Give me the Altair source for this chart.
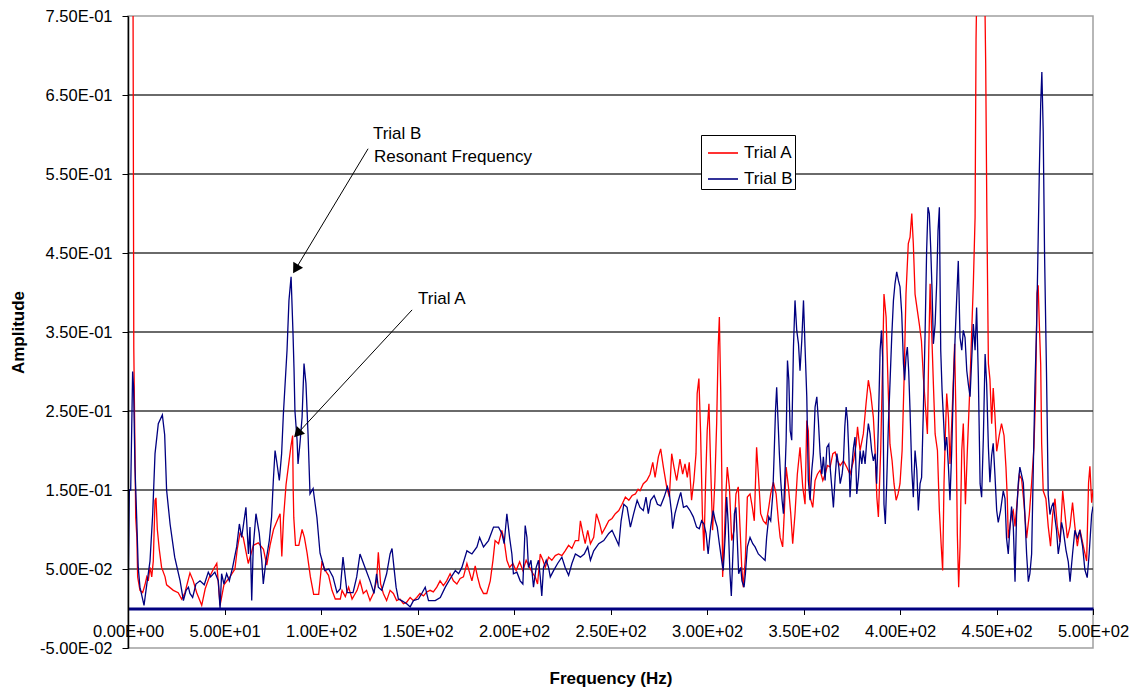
import altair as alt
import pandas as pd

# ---- Trial A spectrum (frequency in Hz, amplitude) by band ----
a_hz_1 = [0, 1.5, 2.6, 3.0, 4.0, 4.6, 5.0, 6.2, 7.6, 8.8,
          9.7, 10.5, 11.4, 12.3, 13.1, 14.0, 14.5, 15.2, 16.2, 17.4,
          19.2, 20.0, 23.5, 26.0, 27.8, 29.5, 32.1, 33.8, 35.6, 38.2,
          40.0, 42.2, 44.3, 46.0, 47.7, 49.7, 52.8, 55.4, 56.6, 58.0,
          59.7, 62.3, 65.0, 67.5, 70.2, 71.9, 73.6, 75.4, 77.1, 78.8,
          79.7, 80.6, 81.9, 83.1, 84.4, 85.3, 85.6, 85.9, 86.8, 88.5,
          90.2, 91.4, 92.8, 94.5, 96.2, 98.8, 100.5, 101.7, 103.9, 105.7,
          107.4, 110.0, 110.9, 112.6, 114.3, 116.1, 118.7]
a_amp_1 = [0.95, 0.9, 0.78, 0.33, 0.115, 0.09, 0.04, 0.023, 0.02, 0.03,
           0.04, 0.035, 0.052, 0.04, 0.06, 0.137, 0.14, 0.10, 0.075, 0.052,
           0.04, 0.03, 0.023, 0.02, 0.012, 0.02, 0.045, 0.035, 0.02, 0.004,
           0.025, 0.04, 0.05, 0.057, 0.004, 0.03, 0.04, 0.05, 0.075, 0.095,
           0.09, 0.057, 0.08, 0.083, 0.075, 0.055, 0.08, 0.10, 0.11, 0.12,
           0.066, 0.115, 0.157, 0.18, 0.205, 0.219, 0.15, 0.115, 0.08, 0.08,
           0.10, 0.09, 0.07, 0.04, 0.018, 0.018, 0.06, 0.05, 0.042, 0.023,
           0.012, 0.012, 0.023, 0.015, 0.027, 0.012, 0.023]

a_hz_2 = [120.2, 121.9, 123.6, 125.4, 127.1, 128.8, 129.7, 130.9, 132.3, 134.0,
          135.8, 137.5, 139.2, 140.9, 142.7, 144.4, 146.2, 147.9, 149.6, 151.3,
          153.1, 154.8, 156.5, 158.2, 160.0, 161.7, 163.4, 165.1, 166.9, 168.6,
          170.4, 172.1, 173.8, 175.6, 176.9, 178.2, 179.9, 181.1, 182.5, 184.2,
          185.9, 187.7, 189.1, 190.2, 192.0, 193.7, 194.9, 196.3, 197.7, 199.4,
          201.1, 202.9, 204.6, 206.3, 208.1, 209.8, 211.0, 212.2, 213.6, 215.0,
          216.2, 217.9, 219.6, 221.4, 223.1, 224.8, 226.5, 228.3, 230.0, 231.8,
          233.5, 234.4, 235.7, 236.9, 238.2, 239.6, 241.3, 242.7, 244.4, 245.6,
          247.4, 249.1, 250.8, 252.5, 254.3, 256.0, 257.7, 259.5, 261.2, 262.9,
          264.3]
a_amp_2 = [0.035, 0.019, 0.023, 0.01, 0.019, 0.035, 0.071, 0.031, 0.019, 0.01,
           0.023, 0.019, 0.01, 0.012, 0.006, 0.008, 0.014, 0.01, 0.014, 0.019,
           0.016, 0.021, 0.023, 0.021, 0.027, 0.035, 0.029, 0.035, 0.044, 0.035,
           0.031, 0.038, 0.04, 0.057, 0.046, 0.035, 0.054, 0.04, 0.027, 0.019,
           0.019, 0.035, 0.061, 0.086, 0.082, 0.099, 0.086, 0.061, 0.052, 0.057,
           0.048, 0.059, 0.048, 0.061, 0.052, 0.044, 0.04, 0.031, 0.069, 0.061,
           0.052, 0.065, 0.061, 0.067, 0.069, 0.067, 0.073, 0.08, 0.076, 0.086,
           0.086, 0.111, 0.095, 0.082, 0.099, 0.082, 0.09, 0.12, 0.107, 0.095,
           0.103, 0.111, 0.114, 0.12, 0.124, 0.132, 0.141, 0.137, 0.143, 0.145,
           0.151]

a_hz_3 = [265.3, 267.0, 268.8, 270.5, 271.9, 273.1, 274.8, 276.0, 277.4, 279.1,
          280.5, 281.7, 282.9, 284.3, 286.0, 287.4, 288.6, 289.8, 290.8, 292.0,
          293.2, 294.3, 294.9, 295.8, 296.7, 297.6, 298.4, 299.3, 300.1, 301.0,
          301.9, 302.9, 304.1, 305.0, 305.8, 306.4, 307.1, 307.7, 308.1, 308.8,
          309.8, 310.5, 311.6, 312.8, 314.0, 315.0, 316.2, 317.1, 318.0, 318.8,
          319.9, 320.9, 322.3, 323.5, 324.5, 325.7, 326.8, 327.8, 329.2, 330.6,
          332.0, 333.0, 334.4, 335.8, 337.0, 337.9, 339.2, 340.1, 341.0, 342.2,
          343.4, 344.4, 345.6, 346.8, 348.2, 349.6, 350.8, 351.7, 352.5, 353.4,
          354.8, 356.0, 357.2, 358.6, 360.0, 361.2, 362.4, 363.8, 365.2, 366.4,
          367.6, 369.0, 370.7, 372.4, 374.1, 375.9, 377.3, 378.0]
a_amp_3 = [0.149, 0.158, 0.162, 0.17, 0.185, 0.166, 0.192, 0.202, 0.179, 0.154,
           0.141, 0.196, 0.179, 0.162, 0.189, 0.17, 0.183, 0.166, 0.185, 0.137,
           0.162, 0.196, 0.272, 0.291, 0.221, 0.12, 0.073, 0.162, 0.225, 0.259,
           0.179, 0.099, 0.162, 0.234, 0.331, 0.369, 0.276, 0.162, 0.04, 0.078,
           0.145, 0.179, 0.154, 0.086, 0.099, 0.145, 0.154, 0.103, 0.052, 0.027,
           0.065, 0.141, 0.145, 0.128, 0.111, 0.204, 0.162, 0.12, 0.111, 0.107,
           0.128, 0.145, 0.16, 0.145, 0.111, 0.09, 0.078, 0.124, 0.179, 0.154,
           0.12, 0.082, 0.12, 0.17, 0.204, 0.154, 0.132, 0.238, 0.225, 0.141,
           0.128, 0.162, 0.17, 0.175, 0.162, 0.17, 0.181, 0.179, 0.196, 0.198,
           0.187, 0.181, 0.187, 0.179, 0.17, 0.187, 0.208, 0.23]

a_hz_4 = [379.3, 381.0, 382.4, 383.6, 384.8, 386.2, 387.1, 388.0, 388.8, 390.0,
          391.0, 391.7, 392.8, 393.8, 394.8, 395.9, 396.9, 398.0, 399.0, 400.0,
          401.1, 402.1, 403.1, 404.3, 405.2, 406.1, 406.9, 407.8, 409.0, 410.0,
          411.1, 412.1, 413.2, 414.2, 414.9, 415.6, 416.4, 417.3, 418.2, 419.4,
          420.4, 421.3, 422.1, 422.8, 423.5, 424.2, 425.1, 425.9, 426.8, 427.7,
          428.3, 429.0, 429.7, 430.4, 431.1, 432.0, 432.8, 433.9, 434.9, 436.0,
          437.0, 438.0, 438.9, 439.4, 440.1, 441.5, 443.5, 444.4, 445.0, 445.8]
a_amp_4 = [0.2, 0.221, 0.259, 0.289, 0.272, 0.242, 0.2, 0.141, 0.116, 0.2,
           0.31, 0.398, 0.369, 0.284, 0.208, 0.187, 0.158, 0.137, 0.145, 0.158,
           0.2, 0.289, 0.398, 0.462, 0.47, 0.5, 0.462, 0.398, 0.377, 0.36,
           0.339, 0.293, 0.255, 0.221, 0.327, 0.411, 0.352, 0.284, 0.221, 0.2,
           0.124, 0.082, 0.048, 0.158, 0.221, 0.272, 0.242, 0.183, 0.234, 0.293,
           0.335, 0.242, 0.095, 0.027, 0.078, 0.2, 0.234, 0.132, 0.2, 0.268,
           0.339, 0.411, 0.495, 0.72, 0.84, 0.9, 0.86, 0.69, 0.5, 0.31]

a_hz_5 = [446.6, 447.5, 448.3, 449.2, 450.1, 451.4, 452.6, 453.9, 454.9, 455.6,
          456.1, 457.0, 457.8, 458.7, 459.6, 460.8, 461.8, 463.0, 464.2, 465.6,
          467.0, 468.2, 469.4, 470.3, 471.0, 471.6, 472.2, 472.9, 473.4, 474.2,
          475.6, 476.8, 478.0, 479.1, 480.3, 481.5, 482.9, 484.3, 485.5, 486.7,
          488.1, 489.4, 490.6, 491.9, 493.2, 495.0, 496.7, 497.7, 498.4, 499.3,
          500.0]
a_amp_5 = [0.29, 0.234, 0.279, 0.244, 0.199, 0.219, 0.234, 0.219, 0.179, 0.139,
           0.089, 0.104, 0.119, 0.124, 0.104, 0.139, 0.169, 0.164, 0.134, 0.089,
           0.119, 0.159, 0.204, 0.274, 0.399, 0.409, 0.359, 0.309, 0.209, 0.149,
           0.139, 0.104, 0.079, 0.119, 0.139, 0.104, 0.084, 0.149, 0.119, 0.089,
           0.104, 0.134, 0.104, 0.079, 0.1, 0.079, 0.06, 0.159, 0.18, 0.134,
           0.15]

# ---- Trial B spectrum by band ----
b_hz_1 = [0, 0.7, 1.4, 2.4, 2.9, 3.6, 4.5, 5.3, 6.2, 8.3,
          9.7, 11.4, 12.8, 14.0, 15.7, 17.8, 19.0, 20.0, 21.8, 24.2,
          27.0, 28.7, 30.1, 31.3, 32.1, 33.5, 35.2, 37.3, 39.5, 41.6,
          42.8, 45.0, 46.8, 47.7, 48.5, 49.7, 51.1, 52.5, 54.2, 56.3,
          57.7, 58.9, 61.1, 62.4, 63.2, 64.1, 64.9, 66.3, 68.0, 69.3,
          70.1, 71.3, 73.2, 74.4, 75.3, 76.2, 77.0, 78.4, 79.6, 80.5,
          82.4, 83.4, 84.5, 85.5, 86.0, 86.5, 87.6, 88.1, 89.1, 90.2,
          91.2, 92.2, 93.3, 94.3, 95.9, 97.9, 99.5, 101.0, 102.0, 104.0,
          106.2, 108.3, 110.0, 111.4, 113.5, 116.6, 118.5]
b_amp_1 = [0.0, 0.15, 0.15, 0.30, 0.28, 0.18, 0.115, 0.052, 0.027, 0.004,
           0.03, 0.06, 0.12, 0.196, 0.234, 0.245, 0.22, 0.15, 0.107, 0.065,
           0.035, 0.01, 0.023, 0.027, 0.019, 0.014, 0.031, 0.035, 0.03, 0.046,
           0.04, 0.046, 0.035, 0.0, 0.044, 0.031, 0.044, 0.035, 0.052, 0.078,
           0.107, 0.09, 0.128, 0.069, 0.103, 0.01, 0.078, 0.12, 0.095, 0.061,
           0.031, 0.057, 0.086, 0.116, 0.162, 0.2, 0.187, 0.162, 0.196, 0.246,
           0.327, 0.39, 0.42, 0.348, 0.305, 0.25, 0.213, 0.183, 0.209, 0.242,
           0.31, 0.285, 0.22, 0.145, 0.152, 0.115, 0.07, 0.057, 0.048, 0.05,
           0.04, 0.02, 0.025, 0.065, 0.02, 0.02, 0.04]

b_hz_2 = [120.2, 122.8, 125.4, 127.5, 128.8, 129.7, 131.5, 134.0, 135.8, 136.8,
          137.8, 138.9, 140.1, 141.8, 144.4, 146.2, 147.9, 150.5, 152.2, 154.0,
          155.7, 159.2, 161.8, 164.4, 167.0, 169.6, 171.3, 173.0, 175.6, 178.2,
          180.8, 182.2, 184.2, 186.8, 189.4, 192.0, 193.7, 194.9, 196.3, 197.7,
          198.9, 199.7, 201.5, 203.2, 204.6, 205.8, 206.7, 207.5, 208.8, 210.1,
          211.5, 212.7, 213.6, 214.4, 215.3, 216.7, 217.9, 218.8, 220.5, 222.6,
          224.8, 226.5, 228.3, 230.0, 231.8, 234.4, 236.4, 238.2, 239.6, 241.3,
          243.9, 246.5, 249.1, 250.8, 252.5, 254.3, 255.5, 256.9, 258.6, 260.3,
          262.0, 263.8]
b_amp_2 = [0.069, 0.052, 0.035, 0.019, 0.044, 0.027, 0.023, 0.044, 0.069, 0.076,
           0.052, 0.027, 0.012, 0.01, 0.006, 0.002, 0.01, 0.012, 0.019, 0.027,
           0.01, 0.01, 0.014, 0.027, 0.038, 0.048, 0.044, 0.052, 0.073, 0.069,
           0.078, 0.09, 0.078, 0.086, 0.103, 0.103, 0.095, 0.082, 0.12, 0.09,
           0.069, 0.044, 0.046, 0.035, 0.031, 0.105, 0.09, 0.052, 0.061, 0.027,
           0.052, 0.061, 0.04, 0.016, 0.052, 0.061, 0.052, 0.04, 0.048, 0.057,
           0.065, 0.052, 0.042, 0.057, 0.069, 0.065, 0.069, 0.078, 0.061, 0.073,
           0.082, 0.086, 0.095, 0.099, 0.09, 0.08, 0.111, 0.132, 0.128, 0.103,
           0.12, 0.137]

b_hz_3 = [265.3, 267.0, 268.4, 269.6, 270.8, 272.6, 274.3, 276.0, 277.8, 279.5,
          280.5, 281.7, 282.2, 283.4, 285.2, 286.4, 287.8, 289.5, 291.2, 292.9,
          294.6, 296.0, 297.2, 298.4, 299.5, 300.6, 301.9, 303.2, 304.3, 305.3,
          306.4, 307.6, 308.4, 309.5, 310.2, 311.0, 311.9, 312.6, 313.3, 314.2,
          315.0, 315.7, 316.4, 317.5, 318.1, 319.2, 319.9, 320.9, 322.3, 323.7,
          324.9, 326.6, 328.3, 330.1, 330.9, 332.0, 333.0, 334.1, 334.8, 335.5,
          336.1, 336.8, 337.5, 338.2, 338.9, 339.6, 340.3, 341.0, 341.7, 342.4,
          343.1, 343.9, 344.8, 345.6, 346.5, 347.4, 348.2, 349.1, 350.0, 350.8,
          351.7, 352.5, 353.4, 354.3, 355.1, 356.0, 356.9, 357.7, 358.6, 359.5,
          360.3, 361.2, 362.1, 363.1, 363.8, 364.8, 365.5, 366.4, 367.3, 368.3,
          369.0, 370.0, 370.7, 371.4, 372.1, 372.8, 373.5, 374.1, 375.0, 375.9,
          376.7, 377.6, 378.5]
b_amp_3 = [0.128, 0.124, 0.141, 0.12, 0.137, 0.143, 0.132, 0.13, 0.141, 0.154,
           0.145, 0.12, 0.101, 0.12, 0.137, 0.147, 0.128, 0.13, 0.124, 0.116,
           0.103, 0.101, 0.111, 0.107, 0.095, 0.069, 0.103, 0.124, 0.111, 0.103,
           0.082, 0.061, 0.048, 0.095, 0.141, 0.107, 0.044, 0.016, 0.061, 0.12,
           0.128, 0.086, 0.044, 0.052, 0.035, 0.027, 0.044, 0.078, 0.09, 0.082,
           0.078, 0.069, 0.065, 0.061, 0.09, 0.116, 0.111, 0.145, 0.196, 0.251,
           0.28, 0.238, 0.196, 0.162, 0.137, 0.12, 0.162, 0.213, 0.314, 0.289,
           0.225, 0.213, 0.331, 0.39, 0.352, 0.335, 0.301, 0.339, 0.39, 0.331,
           0.268, 0.162, 0.137, 0.175, 0.196, 0.255, 0.268, 0.238, 0.196, 0.17,
           0.192, 0.162, 0.204, 0.208, 0.179, 0.149, 0.128, 0.166, 0.196, 0.179,
           0.158, 0.17, 0.187, 0.23, 0.255, 0.238, 0.196, 0.141, 0.179, 0.204,
           0.217, 0.145, 0.166]

b_hz_4 = [379.3, 380.2, 381.0, 381.9, 382.8, 383.6, 384.5, 385.3, 386.2, 387.1,
          387.9, 388.8, 389.7, 390.4, 391.0, 391.7, 392.4, 393.1, 394.0, 394.8,
          395.7, 396.6, 397.4, 398.3, 399.2, 400.0, 400.9, 401.8, 402.4, 403.1,
          403.8, 404.5, 405.2, 406.1, 406.9, 407.8, 408.7, 409.5, 410.4, 411.2,
          412.1, 413.0, 413.8, 414.5, 415.2, 415.9, 416.6, 417.3, 418.2, 419.0,
          419.7, 420.4, 421.1, 421.8, 422.5, 423.3, 424.2, 425.1, 425.9, 426.8,
          427.7, 428.5, 429.4, 430.2, 431.1, 432.0, 432.8, 433.7, 434.6, 435.4,
          436.3, 437.2, 438.0, 438.9, 439.7, 440.6, 441.5, 442.3, 443.2, 444.1,
          444.9, 445.8]
b_amp_4 = [0.2, 0.183, 0.2, 0.183, 0.213, 0.234, 0.221, 0.2, 0.187, 0.196,
           0.158, 0.234, 0.327, 0.352, 0.318, 0.132, 0.107, 0.158, 0.234, 0.284,
           0.343, 0.39, 0.411, 0.426, 0.415, 0.407, 0.373, 0.31, 0.289, 0.318,
           0.331, 0.301, 0.251, 0.175, 0.141, 0.2, 0.175, 0.124, 0.158, 0.166,
           0.251, 0.348, 0.453, 0.508, 0.5, 0.457, 0.403, 0.335, 0.36, 0.411,
           0.478, 0.508, 0.327, 0.276, 0.242, 0.2, 0.217, 0.179, 0.137, 0.2,
           0.284, 0.339, 0.394, 0.44, 0.343, 0.327, 0.352, 0.343, 0.301, 0.284,
           0.268, 0.318, 0.36, 0.327, 0.381, 0.293, 0.158, 0.141, 0.217, 0.322,
           0.284, 0.204]

b_hz_5 = [446.6, 447.5, 448.3, 449.2, 450.1, 450.9, 452.1, 453.5, 454.4, 455.2,
          456.1, 457.0, 457.8, 458.7, 459.6, 460.4, 461.3, 462.1, 463.0, 463.9,
          464.7, 465.6, 466.5, 467.3, 468.2, 469.0, 469.9, 470.8, 471.5, 472.2,
          472.9, 473.5, 474.2, 474.9, 475.9, 476.8, 477.7, 478.6, 479.4, 480.3,
          481.1, 482.0, 482.9, 483.7, 484.6, 486.0, 487.2, 488.1, 489.4, 490.6,
          491.9, 493.2, 494.6, 495.8, 497.0, 498.0, 499.3, 500.0]
b_amp_5 = [0.16, 0.194, 0.209, 0.169, 0.124, 0.109, 0.124, 0.149, 0.139, 0.089,
           0.069, 0.104, 0.129, 0.104, 0.034, 0.119, 0.159, 0.179, 0.169, 0.159,
           0.119, 0.069, 0.034, 0.044, 0.069, 0.169, 0.279, 0.359, 0.454, 0.554,
           0.639, 0.679, 0.604, 0.449, 0.299, 0.144, 0.119, 0.129, 0.134, 0.114,
           0.099, 0.069, 0.084, 0.109, 0.099, 0.074, 0.059, 0.034, 0.069, 0.099,
           0.089, 0.099, 0.079, 0.049, 0.039, 0.069, 0.119, 0.129]

series_names = ["Trial A", "Trial B"]
series_colors = ["#ff0000", "#000080"]

# ---- axes ----
X_MIN, X_MAX = 0, 500
Y_MIN, Y_MAX = -0.05, 0.75
x_ticks = [0, 50, 100, 150, 200, 250, 300, 350, 400, 450, 500]
x_tick_labels = ["0.00E+00", "5.00E+01", "1.00E+02", "1.50E+02", "2.00E+02", "2.50E+02",
                 "3.00E+02", "3.50E+02", "4.00E+02", "4.50E+02", "5.00E+02"]
y_ticks = [-0.05, 0.05, 0.15, 0.25, 0.35, 0.45, 0.55, 0.65, 0.75]
y_tick_labels = ["-5.00E-02", "5.00E-02", "1.50E-01", "2.50E-01", "3.50E-01",
                 "4.50E-01", "5.50E-01", "6.50E-01", "7.50E-01"]
grid_levels = [0.05, 0.15, 0.25, 0.35, 0.45, 0.55, 0.65]

# ---- annotations ----
note_hz = [126.9, 127.5, 150.3]
note_amp = [0.601, 0.571, 0.392]
note_text = ["Trial B", "Resonant Frequency", "Trial A"]
arrow_from_hz = [124.4, 147.2]
arrow_from_amp = [0.582, 0.378]
arrow_to_hz = [87.3, 88.4]
arrow_to_amp = [0.4315, 0.223]
arrow_angle = [211, 223]

PLOT_W, PLOT_H = 965, 632
FONT = "Liberation Sans"


def label_expr(values, labels):
    expr = "''"
    for v, lab in reversed(list(zip(values, labels))):
        expr = f"(abs(datum.value - ({v})) < 1e-6 ? '{lab}' : {expr})"
    return expr


spectra = pd.DataFrame({
    "Frequency": a_hz_1 + a_hz_2 + a_hz_3 + a_hz_4 + a_hz_5
                 + b_hz_1 + b_hz_2 + b_hz_3 + b_hz_4 + b_hz_5,
    "Amplitude": a_amp_1 + a_amp_2 + a_amp_3 + a_amp_4 + a_amp_5
                 + b_amp_1 + b_amp_2 + b_amp_3 + b_amp_4 + b_amp_5,
    "Series": ["Trial A"] * len(a_hz_1 + a_hz_2 + a_hz_3 + a_hz_4 + a_hz_5)
              + ["Trial B"] * len(b_hz_1 + b_hz_2 + b_hz_3 + b_hz_4 + b_hz_5),
})

x_scale = alt.Scale(domain=[X_MIN, X_MAX], nice=False, zero=False)
y_scale = alt.Scale(domain=[Y_MIN, Y_MAX], nice=False, zero=False)

# x axis drawn along amplitude zero
zero_offset = -PLOT_H * (0 - Y_MIN) / (Y_MAX - Y_MIN)

x_axis = alt.Axis(
    title="Frequency (Hz)", values=x_ticks, labelExpr=label_expr(x_ticks, x_tick_labels),
    offset=zero_offset, grid=False, domainColor="#000080", domainWidth=3,
    tickColor="#000000", tickSize=6, tickWidth=1, labelPadding=9,
    labelFont=FONT, labelFontSize=16.5, labelColor="#000000", labelFlush=False,
    labelOverlap=False, titleFont=FONT, titleFontSize=17, titleFontWeight="bold",
    titleColor="#000000", titlePadding=30, zindex=1,
)
y_axis = alt.Axis(
    title="Amplitude", values=y_ticks, labelExpr=label_expr(y_ticks, y_tick_labels),
    grid=False, domainColor="#000000", domainWidth=1.5, tickColor="#000000",
    tickSize=6, tickWidth=1, labelPadding=10, labelFont=FONT, labelFontSize=16.5,
    labelColor="#000000", labelFlush=False, labelOverlap=False, titleFont=FONT,
    titleFontSize=17, titleFontWeight="bold", titleColor="#000000", titlePadding=12,
    zindex=1,
)

grid = alt.Chart(pd.DataFrame({"level": grid_levels})).mark_rule(
    color="#383838", strokeWidth=1.3
).encode(y=alt.Y("level:Q", scale=y_scale, axis=y_axis))

lines = alt.Chart(spectra).mark_line(strokeWidth=1.3, clip=True).encode(
    x=alt.X("Frequency:Q", scale=x_scale, axis=x_axis),
    y=alt.Y("Amplitude:Q", scale=y_scale, axis=y_axis),
    color=alt.Color(
        "Series:N",
        scale=alt.Scale(domain=series_names, range=series_colors),
        legend=alt.Legend(
            title=None, orient="none", legendX=573, legendY=119, direction="vertical",
            strokeColor="#000000", fillColor="#ffffff", padding=2,
            labelFont=FONT, labelFontSize=17, labelColor="#000000", labelOffset=5,
            symbolType="stroke", symbolSize=900, symbolStrokeWidth=1.6,
            symbolOffset=4, rowPadding=2,
        ),
    ),
)

notes = alt.Chart(pd.DataFrame({"f": note_hz, "a": note_amp, "t": note_text})).mark_text(
    align="left", baseline="middle", font=FONT, fontSize=17, color="#000000"
).encode(
    x=alt.X("f:Q", scale=x_scale, axis=x_axis),
    y=alt.Y("a:Q", scale=y_scale, axis=y_axis),
    text="t:N",
)

arrows = pd.DataFrame({
    "f": arrow_from_hz, "a": arrow_from_amp,
    "f2": arrow_to_hz, "a2": arrow_to_amp, "angle": arrow_angle,
})
shafts = alt.Chart(arrows).mark_rule(color="#000000", strokeWidth=1).encode(
    x=alt.X("f:Q", scale=x_scale, axis=x_axis),
    y=alt.Y("a:Q", scale=y_scale, axis=y_axis),
    x2="f2:Q",
    y2="a2:Q",
)
heads = alt.Chart(arrows).mark_point(
    shape="triangle", filled=True, size=130, color="#000000", opacity=1
).encode(
    x=alt.X("f2:Q", scale=x_scale, axis=x_axis),
    y=alt.Y("a2:Q", scale=y_scale, axis=y_axis),
    angle=alt.Angle("angle:Q", scale=None),
)

chart = alt.layer(grid, lines, shafts, heads, notes).properties(
    width=PLOT_W,
    height=PLOT_H,
    padding={"left": 128, "top": 16, "right": 45, "bottom": 46},
    autosize=alt.AutoSizeParams(type="none"),
    background="#ffffff",
).configure_view(stroke="#a0a0a0", strokeWidth=1.5)

chart.save("out.html", embed_options={"renderer": "svg", "actions": False})
